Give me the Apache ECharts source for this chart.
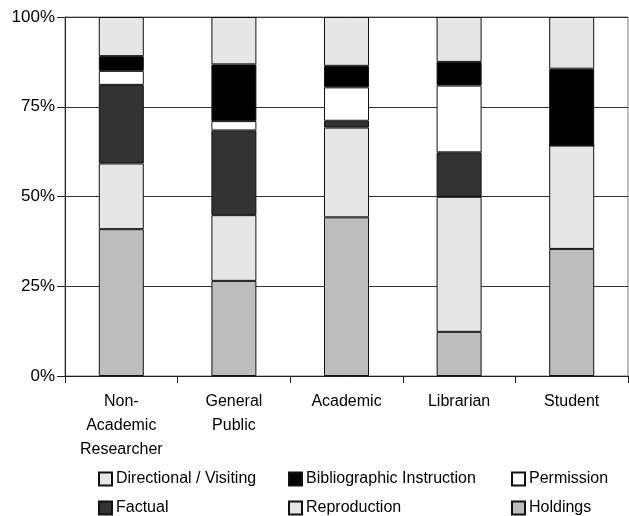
<!DOCTYPE html>
<html>
<head>
<meta charset="utf-8">
<script src="https://cdn.jsdelivr.net/npm/echarts@6/dist/echarts.min.js"></script>
<style>
  html, body { margin: 0; padding: 0; background: #fff; }
  #chart { width: 629px; height: 516px; }
</style>
</head>
<body>
<div id="chart"></div>
<script>
// categories and percentage shares (bottom to top)
const categories = ['Non-\nAcademic\nResearcher', 'General\nPublic', 'Academic', 'Librarian', 'Student'];
const holdings = [40.9, 26.5, 44.2, 12.3, 35.4];
const reproduction = [18.3, 18.3, 25.0, 37.6, 28.8];
const factual = [21.9, 23.6, 1.9, 12.4, 0];
const permission = [3.9, 2.6, 9.3, 18.6, 0];
const bibliographic = [4.1, 15.8, 6.0, 6.6, 21.4];
const directional = [10.9, 13.2, 13.6, 12.5, 14.4];
const yTicks = [0, 25, 50, 75, 100];

const font = 'Liberation Sans, Arial, sans-serif';

const seriesDefs = [
  { name: 'Holdings', data: holdings, color: '#bdbdbd' },
  { name: 'Reproduction', data: reproduction, color: '#e6e6e6' },
  { name: 'Factual', data: factual, color: '#333333' },
  { name: 'Permission', data: permission, color: '#ffffff' },
  { name: 'Bibliographic Instruction', data: bibliographic, color: '#000000' },
  { name: 'Directional / Visiting', data: directional, color: '#e6e6e6' }
];

// legend placement, one legend per entry
const legendSpots = [
  { name: 'Directional / Visiting', left: 98, top: 471 },
  { name: 'Bibliographic Instruction', left: 288, top: 471 },
  { name: 'Permission', left: 511, top: 471 },
  { name: 'Factual', left: 98, top: 500 },
  { name: 'Reproduction', left: 288, top: 500 },
  { name: 'Holdings', left: 511, top: 500 }
];

const chart = echarts.init(document.getElementById('chart'));
chart.setOption({
  animation: false,
  grid: {
    left: 65, right: 1, top: 17, bottom: 140,
    show: true, borderColor: '#777', borderWidth: 1
  },
  legend: legendSpots.map(l => ({
    data: [l.name],
    left: l.left,
    top: l.top,
    padding: 0,
    itemWidth: 13,
    itemHeight: 13,
    icon: 'rect',
    selectedMode: false,
    textStyle: { fontFamily: font, fontSize: 16, color: '#000', padding: [0, 0, 0, -1] }
  })),
  xAxis: {
    type: 'category',
    data: categories,
    axisLine: { lineStyle: { color: '#222', width: 1 } },
    axisTick: { show: true, length: 7, lineStyle: { color: '#222' } },
    axisLabel: {
      fontFamily: font, fontSize: 16, color: '#000',
      lineHeight: 24, margin: 14, interval: 0
    }
  },
  yAxis: {
    type: 'value',
    min: 0, max: 100, interval: 25,
    axisLine: { show: true, lineStyle: { color: '#222', width: 1 } },
    axisTick: { show: true, length: 8, inside: false, lineStyle: { color: '#222' } },
    splitLine: { show: true, lineStyle: { color: '#333', width: 1 } },
    axisLabel: {
      fontFamily: font, fontSize: 17, color: '#000', margin: 10,
      formatter: v => (yTicks.includes(v) ? v + '%' : '')
    }
  },
  series: seriesDefs.map(s => ({
    name: s.name,
    type: 'bar',
    stack: 'total',
    barWidth: 45,
    data: s.data,
    itemStyle: { color: s.color, borderColor: '#111', borderWidth: 1 }
  }))
});
</script>
</body>
</html>
